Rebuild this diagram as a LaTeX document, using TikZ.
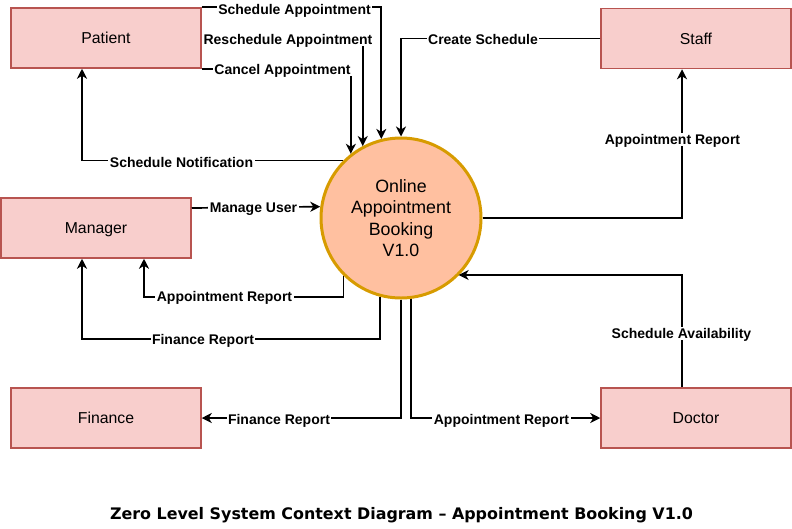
\documentclass[tikz,border=0pt]{standalone}
\usepackage{fontspec}
\setmainfont{Liberation Sans}
\newfontfamily\titlefont{DejaVu Sans}
\usetikzlibrary{arrows.meta}
\definecolor{boxfill}{HTML}{F8CECC}
\definecolor{boxline}{HTML}{B85450}
\definecolor{sysfill}{HTML}{FFC0A0}
\definecolor{sysline}{HTML}{D79B00}
\begin{document}
\begin{tikzpicture}[x=1pt,y=-1pt,
 entity/.style={draw=boxline, fill=boxfill, line width=1.5pt, minimum width=190pt, minimum height=60pt, inner sep=0pt, text height=11.3pt, text depth=0pt, font=\fontsize{15.8}{18}\selectfont},
 proc/.style={circle, draw=sysline, fill=sysfill, line width=3pt, minimum size=160pt, inner sep=0pt, align=center, font=\fontsize{17.8}{21.5}\selectfont},
 flow/.style={draw=black, line width=1.7pt, -{Stealth[length=10pt,width=10pt,inset=3pt]}},
 lbl/.style={fill=white, inner sep=1.5pt, text height=10pt, text depth=0pt, font=\bfseries\fontsize{14}{15}\selectfont}]
\useasboundingbox (0,0) rectangle (792,528);
\node[entity] (patient) at (106,38) {Patient};
\node[entity] (staff) at (696,38.5) {Staff};
\node[entity] (manager) at (96,228) {Manager};
\node[entity] (finance) at (106,418) {Finance};
\node[entity] (doctor) at (696,418) {Doctor};
\node[proc] (sys) at (401,218) {Online\\Appointment\\Booking\\V1.0};
\coordinate (c1) at (144,297);
\coordinate (c2) at (82,339);
\coordinate (c3) at (682,275);
\draw[flow] (patient.north east) -| (sys.104.5);
\draw[flow] (patient.east) -| (sys.118.4);
\draw[flow] (patient.south east) -| (sys.128.7);
\draw[flow] (staff.west) -| (sys.north);
\draw[flow] (sys.135.6) -| ([xshift=-24pt]patient.south);
\draw[flow] ([yshift=20pt]manager.east) -- (sys.172.8);
\draw[flow] (sys.225.6) |- (c1) -- ([xshift=48pt]manager.south);
\draw[flow] (sys.255.5) |- (c2) -- ([xshift=-14pt]manager.south);
\draw[flow] (sys.south) |- (finance.east);
\draw[flow] (sys.277.2) |- (doctor.west);
\draw[flow] ([xshift=-14pt]doctor.north) -- (c3) -- (c3 -| sys.-45.4);
\draw[flow] (sys.east) -| ([xshift=-14pt]staff.south);
\node[lbl] (l1) at (294.5,9) {Schedule Appointment};
\node[lbl] (l2) at (288,39) {Reschedule Appointment};
\node[lbl] (l3) at (282.5,69) {Cancel Appointment};
\node[lbl] (l4) at (483,39) {Create Schedule};
\node[lbl] (l5) at (181.5,162) {Schedule Notification};
\node[lbl] (l6) at (253.5,207) {Manage User};
\node[lbl] (l7) at (224.5,296) {Appointment Report};
\node[lbl] (l8) at (203,339) {Finance Report};
\node[lbl] (l9) at (279,419) {Finance Report};
\node[lbl] (l10) at (501.5,419) {Appointment Report};
\node[lbl] (l11) at (681.5,333) {Schedule Availability};
\node[lbl] (l12) at (672.5,139) {Appointment Report};
\node[font=\titlefont\bfseries\fontsize{15.9}{18}\selectfont] (title) at (401.5,515) {Zero Level System Context Diagram – Appointment Booking V1.0};
\end{tikzpicture}
\end{document}
